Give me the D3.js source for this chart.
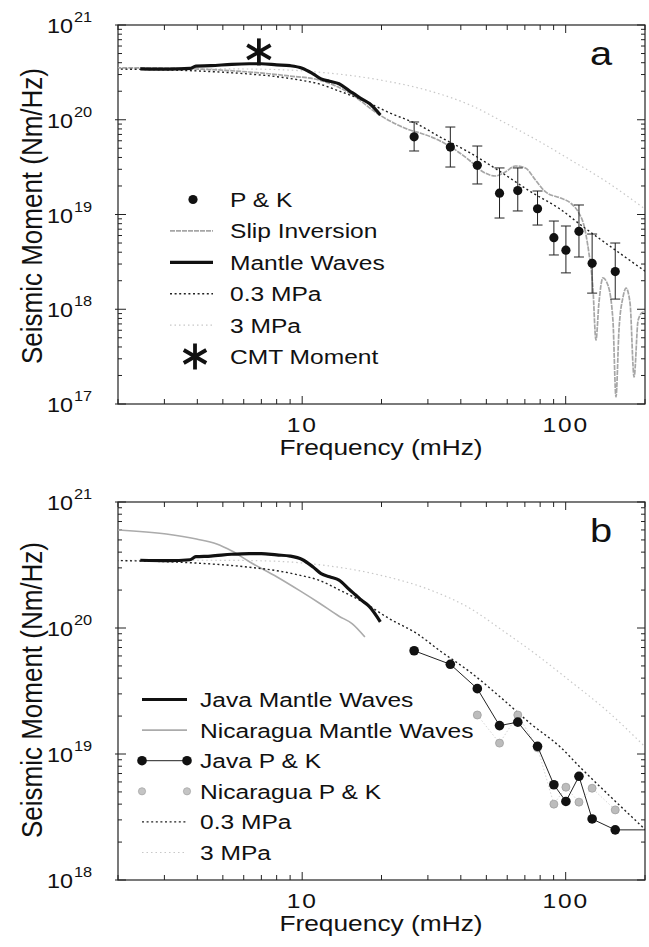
<!DOCTYPE html>
<html>
<head>
<meta charset="utf-8">
<script src="https://cdn.jsdelivr.net/npm/d3@7"></script>
<style>
  body { margin: 0; background: #fff; }
  text { font-family: "Liberation Sans", Arial, Helvetica, sans-serif; fill: #111; }
</style>
</head>
<body>
<svg id="chart" width="649" height="947"></svg>
<script>
// ---- data ----
var freqDomain = [2, 200];

// P & K spectral estimates (Java), with error bars
var pkFreq   = [26.6, 36.5, 46.2, 56.1, 65.8, 78.2, 90.2, 100.2, 112.3, 126.0, 154.2];
var pkMoment = [6.6e19, 5.15e19, 3.3e19, 1.68e19, 1.79e19, 1.15e19, 5.7e18, 4.2e18, 6.65e18, 3.05e18, 2.5e18];
var pkUpper  = [9.47e19, 8.38e19, 5.28e19, 3.1e19, 3.1e19, 1.77e19, 8.53e18, 7.56e18, 1.26e19, 6.22e18, 5.0e18];
var pkLower  = [4.68e19, 3.17e19, 2.1e19, 9.18e18, 1.09e19, 7.74e18, 3.74e18, 2.42e18, 3.56e18, 1.48e18, 1.28e18];

// Java mantle waves
var mantleFreq   = [2.43, 3.1, 3.75, 3.95, 4.5, 5.4, 6.3, 7.0, 8.0, 9.0, 10.0, 11.0, 11.8, 12.7, 13.8, 15.1, 16.0, 16.8, 18.0, 19.8];
var mantleMoment = [3.45e20, 3.42e20, 3.48e20, 3.68e20, 3.72e20, 3.85e20, 3.9e20, 3.9e20, 3.8e20, 3.72e20, 3.5e20, 3.05e20, 2.7e20, 2.55e20, 2.4e20, 2.02e20, 1.82e20, 1.66e20, 1.48e20, 1.12e20];

// slip inversion
var slipFreq   = [1.97, 2.85, 4.04, 6.28, 8.92, 11.6, 15.1, 19.7, 25.6, 28.0, 33.4, 43.4, 47.4, 54.1, 59.0, 64.4, 70.3, 76.8, 83.9, 95.7,
                  104.5, 112.1, 117.2, 122.5, 126.8, 130.3, 133.7, 138.4, 144.6, 151.1, 155.2, 159.3, 165.1, 169.5, 175.5, 181.8, 188.4, 196.9, 201.9];
var slipMoment = [3.52e20, 3.52e20, 3.43e20, 3.19e20, 2.9e20, 2.63e20, 1.92e20, 1.12e20, 7.8e19, 7.25e19, 5.97e19, 3.67e19, 2.95e19, 2.55e19, 2.81e19, 3.25e19, 3.1e19, 2.31e19, 1.73e19, 1.49e19,
                  1.32e19, 1.04e19, 7.74e18, 3.93e18, 1.72e18, 4.73e17, 1.16e18, 2.14e18, 1.8e18, 7.71e17, 1.19e17, 6.04e17, 1.35e18, 1.67e18, 1.16e18, 1.93e17, 7.71e17, 9.35e17, 9.35e17];

// model spectra, 0.3 MPa and 3 MPa stress drop
var stress03Freq   = [1.97, 4.04, 6.28, 8.17, 9.74, 11.6, 13.8, 16.9, 21.5, 27.3, 33.4, 43.4, 56.5, 73.6, 95.7, 114.2, 148.5, 201.9];
var stress03Moment = [3.43e20, 3.27e20, 3.04e20, 2.83e20, 2.63e20, 2.39e20, 2.01e20, 1.62e20, 1.18e20, 9.0e19, 6.57e19, 4.47e19, 2.83e19, 1.74e19, 1.13e19, 7.74e18, 4.55e18, 2.48e18];
var stress3Freq    = [1.97, 4.04, 6.28, 9.74, 12.0, 15.0, 19.7, 30.5, 43.4, 58.0, 77.7, 104.5, 139.7, 201.9];
var stress3Moment  = [3.45e20, 3.45e20, 3.43e20, 3.3e20, 3.15e20, 2.95e20, 2.63e20, 2.01e20, 1.43e20, 9.47e19, 6.11e19, 3.76e19, 2.31e19, 1.12e19];

// Nicaragua
var nicMantleFreq   = [1.97, 3.05, 3.97, 4.74, 5.41, 6.33, 8.03, 9.82, 11.6, 13.8, 15.5, 17.3];
var nicMantleMoment = [6.0e20, 5.57e20, 5.08e20, 4.64e20, 4.08e20, 3.34e20, 2.54e20, 1.97e20, 1.58e20, 1.24e20, 1.08e20, 8.49e19];
var nicPKFreq   = [46.2, 56.1, 65.8, 78.2, 90.2, 100.2, 112.3, 126.0, 154.2];
var nicPKMoment = [2.04e19, 1.22e19, 2.04e19, 1.12e19, 4.0e18, 5.45e18, 4.15e18, 5.35e18, 3.6e18];

// CMT moment
var cmtFreq = 6.85;
var cmtMoment = 5.2e20;

var legendA = ["P & K", "Slip Inversion", "Mantle Waves", "0.3 MPa", "3 MPa", "CMT Moment"];
var legendB = ["Java Mantle Waves", "Nicaragua Mantle Waves", "Java P & K", "Nicaragua P & K", "0.3 MPa", "3 MPa"];

// ---- drawing ----
var svg = d3.select('#chart');
var XS = 1.17; // the figure's lettering is a bit wider than tall

function label(g, x, y, str, size, anchor) {
	return g.append('text')
		.attr('transform', 'translate(' + x + ',' + y + ') scale(' + XS + ',1)')
		.attr('text-anchor', anchor || 'start')
		.style('font-size', size + 'px')
		.text(str);
}

function pts(fs, ms) { return d3.zip(fs, ms); }

function star(g, cx, cy, r) {
	[90, 30, 150].forEach(function(a) {
		var dx = r * Math.cos(a * Math.PI / 180), dy = r * Math.sin(a * Math.PI / 180);
		g.append('line')
			.attr('x1', cx - dx).attr('y1', cy - dy)
			.attr('x2', cx + dx).attr('y2', cy + dy)
			.attr('stroke', '#111').attr('stroke-width', 3.8);
	});
}

var styles = {
	slip:    {stroke: '#a6a6a6', width: 1.7, dash: '5,1'},
	mantle:  {stroke: '#111', width: 3.2, dash: null},
	s03:     {stroke: '#222', width: 1.4, dash: '2,2.6'},
	s3:      {stroke: '#c8c8c8', width: 1.2, dash: '1.5,3'},
	nic:     {stroke: '#ababab', width: 1.6, dash: null},
	pkLine:  {stroke: '#222', width: 1, dash: null}
};

function styled(sel, s) {
	sel.attr('fill', 'none')
		.attr('stroke', s.stroke)
		.attr('stroke-width', s.width)
		.attr('stroke-linejoin', 'round');
	if(s.dash) sel.attr('stroke-dasharray', s.dash);
	return sel;
}

function panel(box) {
	var g = svg.append('g');
	var x = d3.scaleLog().domain(freqDomain).range([box.left, box.right]);
	var y = d3.scaleLog().domain(box.yDomain).range([box.bottom, box.top]);

	g.append('clipPath').attr('id', 'clip' + box.id)
		.append('rect')
		.attr('x', box.left).attr('y', box.top)
		.attr('width', box.right - box.left).attr('height', box.bottom - box.top);

	// frame + ticks on all four sides, pointing inward
	g.append('rect')
		.attr('x', box.left).attr('y', box.top)
		.attr('width', box.right - box.left).attr('height', box.bottom - box.top)
		.attr('fill', 'none').attr('stroke', '#222').attr('stroke-width', 1.2);

	function isMajor(t) { var l = Math.log10(t); return Math.abs(l - Math.round(l)) < 1e-6; }

	x.ticks().forEach(function(t) {
		var px = x(t), len = isMajor(t) ? 8 : 5;
		g.append('line').attr('x1', px).attr('x2', px).attr('y1', box.bottom).attr('y2', box.bottom - len).attr('stroke', '#222');
		g.append('line').attr('x1', px).attr('x2', px).attr('y1', box.top).attr('y2', box.top + len).attr('stroke', '#222');
		if(isMajor(t) && t > freqDomain[0] && t < freqDomain[1])
			label(g, px, box.bottom + 28, String(t), 21, 'middle').style('letter-spacing', '1.5px');
	});
	y.ticks().forEach(function(t) {
		var py = y(t), major = isMajor(t), len = major ? 8 : 4;
		g.append('line').attr('x1', major ? box.left - 3 : box.left).attr('x2', box.left + len).attr('y1', py).attr('y2', py).attr('stroke', '#222');
		g.append('line').attr('x1', box.right).attr('x2', box.right - len).attr('y1', py).attr('y2', py).attr('stroke', '#222');
		if(major) {
			label(g, 73, py + 8, '10', 20, 'end');
			label(g, 74, py - 3, String(Math.round(Math.log10(t))), 14, 'start');
		}
	});

	// axis titles
	label(g, 381, box.bottom + 51, 'Frequency (mHz)', 22.5, 'middle');
	g.append('text')
		.attr('transform', 'translate(42,' + box.titleY + ') rotate(-90) scale(1,' + XS + ')')
		.attr('text-anchor', 'middle')
		.style('font-size', '26px')
		.text('Seismic Moment (Nm/Hz)');

	// panel letter
	label(g, 601, box.top + 40, box.id, 34, 'middle');

	var plot = g.append('g').attr('clip-path', 'url(#clip' + box.id + ')');
	var line = d3.line()
		.x(function(d) { return x(d[0]); })
		.y(function(d) { return y(d[1]); })
		.curve(d3.curveMonotoneX);

	return {g: g, plot: plot, x: x, y: y, line: line};
}

// ---------- panel a ----------
var A = panel({id: 'a', left: 118, right: 645, top: 25, bottom: 404, yDomain: [1e17, 1e21], titleY: 216});

styled(A.plot.append('path').attr('d', A.line(pts(stress3Freq, stress3Moment))), styles.s3);
styled(A.plot.append('path').attr('d', A.line(pts(slipFreq, slipMoment))), styles.slip);
styled(A.plot.append('path').attr('d', A.line(pts(stress03Freq, stress03Moment))), styles.s03);
styled(A.plot.append('path').attr('d', A.line(pts(mantleFreq, mantleMoment))), styles.mantle);

// error bars + dots
var pkA = d3.range(pkFreq.length).map(function(i) {
	return {f: pkFreq[i], m: pkMoment[i], hi: pkUpper[i], lo: pkLower[i]};
});
var eb = A.plot.selectAll('g.eb').data(pkA).enter().append('g').attr('class', 'eb');
eb.append('line')
	.attr('x1', function(d) { return A.x(d.f); }).attr('x2', function(d) { return A.x(d.f); })
	.attr('y1', function(d) { return A.y(d.hi); }).attr('y2', function(d) { return A.y(d.lo); })
	.attr('stroke', '#222').attr('stroke-width', 1);
['hi', 'lo'].forEach(function(k) {
	eb.append('line')
		.attr('x1', function(d) { return A.x(d.f) - 5; }).attr('x2', function(d) { return A.x(d.f) + 5; })
		.attr('y1', function(d) { return A.y(d[k]); }).attr('y2', function(d) { return A.y(d[k]); })
		.attr('stroke', '#222').attr('stroke-width', 1);
});
eb.append('circle')
	.attr('cx', function(d) { return A.x(d.f); })
	.attr('cy', function(d) { return A.y(d.m); })
	.attr('r', 4.6).attr('fill', '#111');

// CMT star with its stem down to the mantle-wave curve
var mantleAtCmt = Math.pow(10, d3.scaleLog().domain(mantleFreq).range(mantleMoment.map(Math.log10))(cmtFreq));
A.g.append('line')
	.attr('x1', A.x(cmtFreq)).attr('x2', A.x(cmtFreq))
	.attr('y1', A.y(cmtMoment)).attr('y2', A.y(mantleAtCmt))
	.attr('stroke', '#111').attr('stroke-width', 2.2);
star(A.g, A.x(cmtFreq), A.y(cmtMoment), 13.5);

// legend a
var legA = A.g.append('g');
var legAStyles = [null, styles.slip, styles.mantle, styles.s03, styles.s3, null];
legendA.forEach(function(name, i) {
	var by = 207 + i * 31.4, cy = by - 7.5;
	label(legA, 230, by, name, 21, 'start');
	if(i === 0) legA.append('circle').attr('cx', 193).attr('cy', cy).attr('r', 4.6).attr('fill', '#111');
	else if(i === 5) star(legA, 195, cy, 13);
	else styled(legA.append('line').attr('x1', 170).attr('x2', 213).attr('y1', cy).attr('y2', cy), legAStyles[i]);
});

// ---------- panel b ----------
var B = panel({id: 'b', left: 118, right: 645, top: 502, bottom: 880, yDomain: [1e18, 1e21], titleY: 690});

styled(B.plot.append('path').attr('d', B.line(pts(stress3Freq, stress3Moment))), styles.s3);
styled(B.plot.append('path').attr('d', B.line(pts(nicMantleFreq, nicMantleMoment))), styles.nic);
styled(B.plot.append('path').attr('d', B.line(pts(stress03Freq, stress03Moment))), styles.s03);
styled(B.plot.append('path').attr('d', B.line(pts(mantleFreq, mantleMoment))), styles.mantle);

// Nicaragua P & K: faint link + grey dots
B.plot.append('path')
	.attr('d', d3.line().x(function(d) { return B.x(d[0]); }).y(function(d) { return B.y(d[1]); })(pts(nicPKFreq, nicPKMoment)))
	.attr('fill', 'none').attr('stroke', '#d6d6d6').attr('stroke-width', 1).attr('stroke-dasharray', '1.5,2');
B.plot.selectAll('circle.nic').data(pts(nicPKFreq, nicPKMoment)).enter().append('circle')
	.attr('class', 'nic')
	.attr('cx', function(d) { return B.x(d[0]); })
	.attr('cy', function(d) { return B.y(d[1]); })
	.attr('r', 4).attr('fill', '#bcbcbc').attr('stroke', '#a0a0a0').attr('stroke-width', 0.8);

// Java P & K: connected black dots, the line runs on to the right edge
var javaPK = pts(pkFreq, pkMoment);
var javaLine = javaPK.concat([[freqDomain[1], pkMoment[pkMoment.length - 1]]]);
B.plot.append('path')
	.attr('d', d3.line().x(function(d) { return B.x(d[0]); }).y(function(d) { return B.y(d[1]); })(javaLine))
	.attr('fill', 'none').attr('stroke', '#222').attr('stroke-width', 1);
B.plot.selectAll('circle.java').data(javaPK).enter().append('circle')
	.attr('class', 'java')
	.attr('cx', function(d) { return B.x(d[0]); })
	.attr('cy', function(d) { return B.y(d[1]); })
	.attr('r', 4.8).attr('fill', '#111');

// legend b
var legB = B.g.append('g');
var legBStyles = [styles.mantle, styles.nic, styles.pkLine, null, styles.s03, styles.s3];
legendB.forEach(function(name, i) {
	var by = 707 + i * 30.6, cy = by - 7.5;
	label(legB, 200, by, name, 21, 'start');
	if(legBStyles[i])
		styled(legB.append('line').attr('x1', 142).attr('x2', 187).attr('y1', cy).attr('y2', cy), legBStyles[i]);
	if(i === 2) {
		[142, 187].forEach(function(px) { legB.append('circle').attr('cx', px).attr('cy', cy).attr('r', 4.8).attr('fill', '#111'); });
	}
	if(i === 3) {
		[142, 187].forEach(function(px) {
			legB.append('circle').attr('cx', px).attr('cy', cy).attr('r', 3.6).attr('fill', '#c4c4c4').attr('stroke', '#a8a8a8').attr('stroke-width', 0.8);
		});
	}
});
</script>
</body>
</html>
